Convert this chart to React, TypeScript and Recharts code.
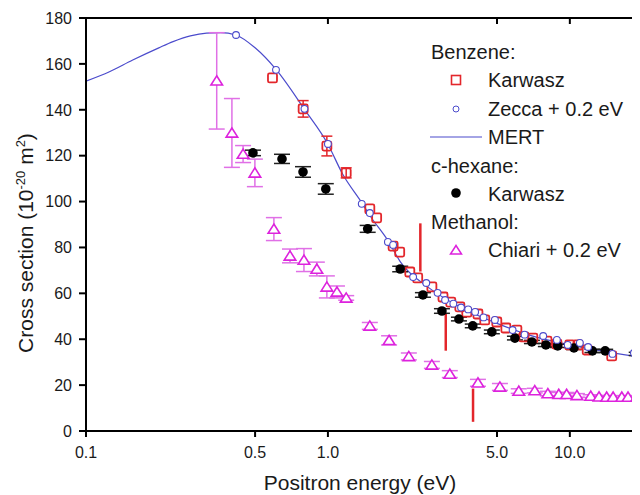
import React from 'react';
import { ComposedChart, XAxis, YAxis, Scatter, Line, ErrorBar, ReferenceLine } from 'recharts';

// ---- axis ticks ----
const xTicks = [0.1, 0.5, 1, 5, 10];
const xTickLabels = ['0.1', '0.5', '1.0', '5.0', '10.0'];
const yTicks = [0, 20, 40, 60, 80, 100, 120, 140, 160, 180];

// ---- Benzene MERT (line) ----
const mertE = [0.1, 0.125, 0.156, 0.2, 0.229, 0.27, 0.315, 0.36, 0.416, 0.5, 0.61, 0.8, 1.0, 1.15, 1.38, 1.5, 1.77, 2.0, 2.6, 3.6, 5.0, 6.8, 11, 19.5];
const mertS = [152.5, 156.6, 161.7, 167, 169.7, 172.2, 173.4, 173.6, 172.6, 167, 157.6, 140.2, 125, 112, 99.5, 93.5, 83, 73.5, 62.6, 53.5, 46.9, 41.8, 36.7, 32.2];

// ---- Benzene Zecca + 0.2 eV ----
const zeccaE = [0.417, 0.61, 0.8, 1.0, 1.38, 1.49, 1.77, 1.86, 2.25, 2.55, 2.84, 3.05, 3.3, 3.55, 3.8, 4.06, 4.4, 4.9, 5.8, 6.5, 7.76, 8.84, 9.8, 11.0, 11.9, 15.0, 18.4];
const zeccaS = [172.6, 157.4, 140.4, 125.1, 99.0, 95.0, 82.4, 81.1, 67.1, 64.5, 60.2, 57.1, 55.5, 53.8, 53.0, 51.9, 49.5, 48.4, 44.0, 42.0, 41.4, 39.7, 37.5, 38.4, 36.6, 33.6, 34.0];

// ---- Benzene Karwasz ----
const bzE = [0.59, 1.49, 1.59, 1.86, 1.98, 2.18, 2.35, 2.69, 2.99, 3.22, 3.51, 3.75, 4.17, 4.45, 4.99, 5.44, 6.04, 6.46, 7.03, 8.04, 8.84, 10.0, 10.8, 11.8, 14.9];
const bzS = [153.9, 96.8, 92.9, 80.6, 78.0, 69.3, 66.7, 62.8, 58.4, 56.2, 54.1, 51.8, 51.0, 48.4, 47.5, 44.9, 44.0, 41.0, 40.5, 39.2, 37.9, 37.5, 37.5, 35.3, 32.7];
const bzErrE = [0.79, 0.99, 1.19];
const bzErrS = [140.4, 124.2, 112.5];
const bzErr = [3.6, 4.3, 2.2];

// ---- c-hexane Karwasz ----
const chxE = [0.49, 0.646, 0.789, 0.98, 1.46, 1.99, 2.47, 2.96, 3.48, 3.97, 4.76, 5.93, 6.97, 7.96, 8.91, 10.4, 12.4, 14.0, 18.9];
const chxS = [121.2, 118.6, 112.9, 105.5, 88.1, 70.6, 59.3, 52.3, 48.8, 45.8, 43.2, 40.5, 38.8, 37.5, 37.1, 36.2, 34.9, 34.9, 33.6];
const chxErr = [1.2, 2.0, 2.3, 2.3, 1.5, 1.2, 1.0, 1.0, 0.8, 0.8, 0.8, 0.8, 0.7, 0.7, 0.7, 0.7, 0.7, 0.7, 0.7];

// ---- Methanol Chiari + 0.2 eV ----
const methE = [0.347, 0.401, 0.446, 0.499, 0.598, 0.697, 0.796, 0.9, 0.99, 1.09, 1.19, 1.49, 1.79, 2.16, 2.69, 3.19, 4.17, 5.14, 6.15, 7.16, 8.11, 9.0, 9.7, 10.7, 12.2, 13.2, 14.2, 15.1, 16.4, 17.4, 18.9];
const methS = [152.6, 129.9, 120.7, 112.5, 88.0, 76.3, 74.5, 70.6, 62.8, 60.6, 58.0, 45.8, 39.5, 32.5, 28.8, 24.8, 21.0, 19.2, 17.4, 17.6, 16.3, 16.0, 16.0, 15.5, 15.2, 14.9, 14.8, 14.8, 14.8, 14.8, 14.8];
const methErr = [21, 15, 3.7, 6, 5, 3, 5, 3, 4.8, 2.6, 1, 1.5, 2, 1.5, 1.5, 1.5, 1.5, 1.5, 1, 1, 1, 0.8, 0.8, 0.8, 0.6, 0.6, 0.6, 0.6, 0.6, 0.6, 0.6];

// ---- Threshold markers (red vertical segments) ----
const thrE = [2.41, 3.07, 3.98];
const thrTop = [90.5, 51.5, 18.5];
const thrBot = [69.5, 35, 4];

const mertData = mertE.map((x, i) => ({ x, y: mertS[i] }));
const zeccaData = zeccaE.map((x, i) => ({ x, y: zeccaS[i] }));
const bzData = bzE.map((x, i) => ({ x, y: bzS[i] }));
const bzErrData = bzErrE.map((x, i) => ({ x, y: bzErrS[i], e: bzErr[i] }));
const chxData = chxE.map((x, i) => ({ x, y: chxS[i], e: chxErr[i] }));
const methData = methE.map((x, i) => ({ x, y: methS[i], e: methErr[i] }));

const RED = '#e3262b';
const BLUE = '#4b4bcc';
const MAG = '#dd22dd';
const MAG_BAR = '#e070e6';
const FONT = '"Liberation Sans", Arial, sans-serif';

const Square = (p: any) => (
  <rect x={p.cx - 4.5} y={p.cy - 4.5} width={9} height={9} rx={1.5} fill="none" stroke={RED} strokeWidth={1.8} />
);
const OpenCircle = (p: any) => (
  <circle cx={p.cx} cy={p.cy} r={3.4} fill="#fff" stroke={BLUE} strokeWidth={1.1} />
);
const Dot = (p: any) => <circle cx={p.cx} cy={p.cy} r={4.8} fill="#000" />;
const Tri = (p: any) => (
  <polygon
    points={`${p.cx},${p.cy - 5} ${p.cx - 5.8},${p.cy + 4.2} ${p.cx + 5.8},${p.cy + 4.2}`}
    fill="#fff"
    stroke={MAG}
    strokeWidth={1.6}
  />
);

const XTick = (p: any) => {
  const idx = xTicks.indexOf(p.payload.value);
  return (
    <text x={p.x} y={450} textAnchor="middle" fontSize={16} fontFamily={FONT} fill="#1a1a1a">
      {xTickLabels[idx] ?? String(p.payload.value)}
    </text>
  );
};
const YTick = (p: any) => (
  <text x={64} y={p.y + 5.8} textAnchor="end" fontSize={16} fontFamily={FONT} fill="#1a1a1a">
    {p.payload.value}
  </text>
);
const NoTick = () => <g />;

const YTitle = () => (
  <text
    x={25}
    y={235}
    transform="rotate(-90, 25, 235)"
    textAnchor="middle"
    fontSize={21}
    fontFamily={FONT}
    fill="#1a1a1a"
  >
    Cross section (10
    <tspan dy={-8} fontSize={13}>-20</tspan>
    <tspan dy={8}> m</tspan>
    <tspan dy={-8} fontSize={13}>2</tspan>
    <tspan dy={8}>)</tspan>
  </text>
);
const XTitle = () => (
  <text x={352} y={482} textAnchor="middle" fontSize={21} fontFamily={FONT} fill="#1a1a1a">
    Positron energy (eV)
  </text>
);

const Legend = () => (
  <svg width={632} height={487} style={{ position: 'absolute', left: 0, top: 0, pointerEvents: 'none' }}>
    <g fontFamily={FONT} fontSize={20} fill="#1a1a1a">
      <text x={423} y={51.3}>Benzene:</text>
      <rect x={443.5} y={67.5} width={9} height={9} fill="none" stroke={RED} strokeWidth={1.6} />
      <text x={480} y={79.3}>Karwasz</text>
      <circle cx={448} cy={101} r={3} fill="#fff" stroke={BLUE} strokeWidth={1} />
      <text x={480} y={108}>Zecca + 0.2 eV</text>
      <line x1={422} x2={474} y1={129} y2={129} stroke={BLUE} strokeWidth={1.2} />
      <text x={480} y={136}>MERT</text>
      <text x={423} y={164.7}>c-hexane:</text>
      <circle cx={448} cy={185} r={4.8} fill="#000" />
      <text x={480} y={192.5}>Karwasz</text>
      <text x={423} y={221}>Methanol:</text>
      <polygon points="448,237.5 442.5,246 453.5,246" fill="#fff" stroke={MAG} strokeWidth={1.5} />
      <text x={480} y={249}>Chiari + 0.2 eV</text>
    </g>
  </svg>
);

export default function App() {
  return (
    <div style={{ position: 'relative', width: 632, height: 487 }}>
      <ComposedChart width={632} height={487} margin={{ top: 10, right: 0, bottom: 0, left: 0 }}>
        <XAxis
          xAxisId="b"
          dataKey="x"
          type="number"
          scale="log"
          domain={[0.1, 19.5]}
          allowDataOverflow
          ticks={xTicks}
          orientation="bottom"
          height={64}
          stroke="#000"
          strokeWidth={2}
          tickSize={6}
          tick={<XTick />}
          label={<XTitle />}
        />
        <XAxis
          xAxisId="t"
          dataKey="x"
          type="number"
          scale="log"
          domain={[0.1, 19.5]}
          allowDataOverflow
          ticks={xTicks}
          orientation="top"
          mirror
          height={20}
          stroke="#000"
          strokeWidth={2}
          tickSize={6}
          tick={<NoTick />}
        />
        <YAxis
          yAxisId="l"
          type="number"
          domain={[0, 180]}
          allowDataOverflow
          ticks={yTicks}
          width={78}
          stroke="#000"
          strokeWidth={2}
          tickSize={7}
          tick={<YTick />}
          label={<YTitle />}
        />
        <YAxis
          yAxisId="r"
          type="number"
          orientation="right"
          mirror
          domain={[0, 180]}
          allowDataOverflow
          ticks={yTicks}
          width={20}
          axisLine={false}
          stroke="#000"
          strokeWidth={2}
          tickSize={6}
          tick={<NoTick />}
        />
        <Line
          xAxisId="b"
          yAxisId="l"
          data={mertData}
          dataKey="y"
          type="monotone"
          stroke={BLUE}
          strokeWidth={1.2}
          dot={false}
          isAnimationActive={false}
        />
        {thrE.map((x, i) => (
          <ReferenceLine
            key={i}
            xAxisId="b"
            yAxisId="l"
            segment={[{ x, y: thrTop[i] }, { x, y: thrBot[i] }]}
            stroke={RED}
            strokeWidth={2.5}
          />
        ))}
        <Scatter xAxisId="b" yAxisId="l" data={methData} dataKey="y" shape={Tri} isAnimationActive={false}>
          <ErrorBar dataKey="e" direction="y" width={8} stroke={MAG_BAR} strokeWidth={1.5} />
        </Scatter>
        <Scatter xAxisId="b" yAxisId="l" data={bzData} dataKey="y" shape={Square} isAnimationActive={false} />
        <Scatter xAxisId="b" yAxisId="l" data={bzErrData} dataKey="y" shape={Square} isAnimationActive={false}>
          <ErrorBar dataKey="e" direction="y" width={5.5} stroke={RED} strokeWidth={1.5} />
        </Scatter>
        <Scatter xAxisId="b" yAxisId="l" data={chxData} dataKey="y" shape={Dot} isAnimationActive={false}>
          <ErrorBar dataKey="e" direction="y" width={8} stroke="#222" strokeWidth={1.5} />
        </Scatter>
        <Scatter xAxisId="b" yAxisId="l" data={zeccaData} dataKey="y" shape={OpenCircle} isAnimationActive={false} />
      </ComposedChart>
      <Legend />
    </div>
  );
}
